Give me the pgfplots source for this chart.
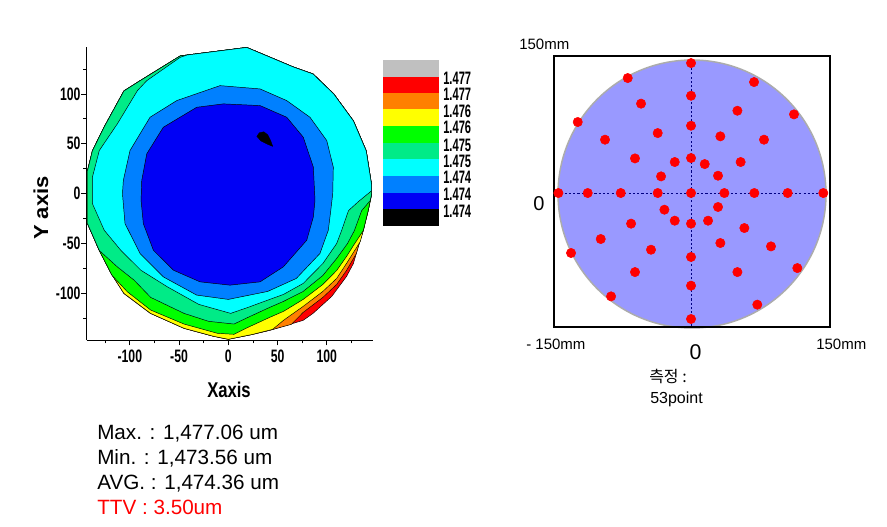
\documentclass[border=0pt]{standalone}
\usepackage{pgfplots}
\pgfplotsset{compat=1.18}
\usepackage{fontspec}
\usepackage{graphicx}
\setmainfont{Liberation Sans}
\newfontfamily\kr{Noto Sans CJK KR}
\definecolor{cGray}{RGB}{192,192,192}
\definecolor{cRed}{RGB}{255,0,0}
\definecolor{cOrange}{RGB}{255,128,0}
\definecolor{cYellow}{RGB}{255,255,0}
\definecolor{cGreen}{RGB}{0,255,0}
\definecolor{cSpring}{RGB}{0,235,135}
\definecolor{cCyan}{RGB}{0,255,255}
\definecolor{cDodger}{RGB}{0,128,255}
\definecolor{cBlue}{RGB}{0,0,245}
\definecolor{wafer}{RGB}{153,153,255}
\definecolor{navyd}{RGB}{0,0,130}
\newcommand\sq[1]{\scalebox{0.68}[1]{#1}}
\newcommand\tkfont{\fontsize{13.5}{13.5}\selectfont\bfseries}
\begin{document}
\begin{tikzpicture}
\useasboundingbox (0,0) rectangle (665.25pt,-395.25pt);
\begin{scope}[x=0.75pt,y=-0.75pt]
\draw[fill=wafer, draw=gray!65, line width=1.1pt] (692,194) circle[radius=100.5pt];
\end{scope}

% ---------------- contour map ----------------
\begin{axis}[at={(65.03pt,-255pt)}, anchor=south west, scale only axis,
  width=214.5pt, height=219.5pt,
  xmin=-143.8, xmax=146.6, ymin=-146.7, ymax=146.7,
  axis lines*=left, axis line style={line width=0.75pt},
  tick align=outside, tick style={black, line width=0.6pt},
  major tick length=4pt, minor tick length=2.5pt,
  xtick={-100,-50,0,50,100}, ytick={-100,-50,0,50,100},
  minor xtick={-125,-75,-25,25,75,125}, minor ytick={-125,-75,-25,25,75,125},
  xticklabels={\sq{-100},\sq{-50},\sq{0},\sq{50},\sq{100}},
  yticklabels={\sq{-100},\sq{-50},\sq{0},\sq{50},\sq{100}},
  ticklabel style={font=\tkfont},
  yticklabel style={inner xsep=0.5pt},
  xticklabel style={inner ysep=3pt}]
% red (full wafer)
\addplot[fill=cRed, draw=black, line width=0.35pt] coordinates {
(-42,139) (18.7,146.6) (66,127) (86,120) (107,100) (127,73) (140,43) (145.6,8) (145.6,0) (142,-17) (137,-37) (132,-53) (127,-70) (120,-83) (105,-103) (86,-120) (76,-127) (42,-137) (25,-141) (0,-146) (-15,-143) (-45,-135) (-79,-120) (-106,-100) (-119,-80) (-131,-57) (-143,-30) (-143,23) (-138,43) (-126,67) (-106,103) (-90,113) (-49,138)} -- cycle;
% orange
\addplot[fill=cOrange, draw=black, line width=0.35pt] coordinates {
(-42,139) (18.7,146.6) (66,127) (86,120) (107,100) (127,73) (140,43) (145.6,8) (145.6,0) (142,-17) (137,-37) (132,-53) (130,-60) (120,-77) (110,-91) (96,-104) (76,-119) (64,-131) (42,-137) (25,-141) (0,-146) (-15,-143) (-45,-135) (-79,-120) (-106,-100) (-119,-80) (-131,-57) (-143,-30) (-143,23) (-138,43) (-126,67) (-106,103) (-90,113) (-49,138)} -- cycle;
% yellow
\addplot[fill=cYellow, draw=black, line width=0.35pt] coordinates {
(-42,139) (18.7,146.6) (66,127) (86,120) (107,100) (127,73) (140,43) (145.6,8) (145.6,0) (142,-17) (137,-37) (134,-48) (120,-70) (110,-85) (96,-98) (76,-113) (56,-127) (45,-136) (25,-141) (0,-146) (-15,-143) (-45,-135) (-79,-120) (-106,-100) (-119,-80) (-131,-57) (-143,-30) (-143,23) (-138,43) (-126,67) (-106,103) (-90,113) (-49,138)} -- cycle;
% green
\addplot[fill=cGreen, draw=black, line width=0.35pt] coordinates {
(-42,139) (18.7,146.6) (66,127) (86,120) (107,100) (127,73) (140,43) (145.6,8) (145.6,0) (142,-17) (137,-37) (127,-52) (120,-63) (110,-77) (96,-91) (76,-106) (56,-118) (42,-124) (20,-134) (5.8,-141) (-11,-140) (-45,-130.7) (-78.8,-116.7) (-102.5,-98.4) (-118,-82) (-131,-57) (-143,-30) (-143,23) (-138,43) (-126,67) (-106,103) (-90,113) (-49,138)} -- cycle;
% spring green
\addplot[fill=cSpring, draw=black, line width=0.35pt] coordinates {
(-42,139) (18.7,146.6) (66,127) (86,120) (107,100) (127,73) (140,43) (145.6,8) (145.6,0) (144,-7) (135.4,-17) (128,-37) (121,-50) (110,-65) (96,-82) (76,-98) (56,-108) (42,-114) (20,-124) (5.8,-130.7) (-20,-128) (-45,-120) (-78.8,-104) (-95.7,-86.7) (-112.7,-73.4) (-131,-57) (-143,-30) (-143,23) (-138,43) (-126,67) (-106,103) (-90,113) (-49,138)} -- cycle;
% cyan
\addplot[fill=cCyan, draw=black, line width=0.35pt] coordinates {
(-42,139) (18.7,146.6) (66,127) (86,120) (107,100) (127,73) (140,43) (145.6,8) (145.6,3) (132,-8) (122,-17) (115,-37) (110,-50) (96,-70) (76,-90) (56,-101) (42,-106) (20,-114) (2.4,-120) (-30,-111) (-61.9,-93.4) (-88.9,-76.7) (-109.2,-56.7) (-126,-36.7) (-138,-10) (-138,16.6) (-131,43.3) (-112.7,70) (-92.3,103.3) (-82.8,113.3) (-49,136.6)} -- cycle;
% dodger blue
\addplot[fill=cDodger, draw=black, line width=0.35pt] coordinates {
(-52.4,93.3) (-8.4,108.3) (32.2,105) (59.3,93.3) (82.9,76.6) (99.9,53.3) (106.6,26.6) (106,0) (104,-17) (101.5,-36.7) (93,-60) (69,-85) (40,-98) (0,-106) (-32.1,-101.7) (-66,-83.4) (-89.6,-60) (-104.9,-30) (-107.5,0) (-106.6,13.3) (-99.8,43.3) (-79.5,76.6)} -- cycle;
% blue
\addplot[fill=cBlue, draw=black, line width=0.35pt] coordinates {
(-32.1,86.6) (-5.1,90) (32.2,88.3) (59.3,76.6) (76.1,56.6) (86.3,26.6) (88,-6.7) (86.3,-23.4) (79.6,-46.7) (55.8,-73.4) (32.2,-88.4) (1.7,-91.7) (-28.7,-88.4) (-55.8,-76.7) (-76.1,-56.7) (-86.3,-30) (-88.6,-6.7) (-87.9,13.3) (-82.8,40) (-66,66.6)} -- cycle;
% black
\addplot[fill=black, draw=black, line width=0.35pt] coordinates {
(29,57.5) (31.5,61) (36,62) (40,59) (43,53) (45,47.5) (40,49.5) (33,53)} -- cycle;
\end{axis}

% ---------------- measurement map ----------------
\begin{axis}[at={(415.5pt,-245.25pt)}, anchor=south west, scale only axis,
  width=207pt, height=203.25pt,
  xmin=-147.2, xmax=149.3, ymin=-143.9, ymax=147.2,
  xtick=\empty, ytick=\empty, axis line style={line width=2.2pt}, clip=false]
\addplot[navyd, line width=0.8pt, dash pattern=on 1.6pt off 1.6pt] coordinates {(-145,0) (145,0)};
\addplot[navyd, line width=0.8pt, dash pattern=on 1.6pt off 1.6pt] coordinates {(0,-143) (0,145)};
\addplot[only marks, mark=*, mark size=3.5pt, mark options={draw=red, fill=red}] coordinates {
(0,139.6) (0,104.5) (0,72.3) (0,37.6) (0,0) (0,-32.9) (0,-68.7) (0,-99.5) (0,-135.3)
(-142.5,0) (-111,0) (-75.5,0) (-35.8,0) (35.8,0) (68,0) (103.8,0) (142.1,0)
(-68.0,123.5) (67.7,119.2) (-53.7,96.0) (49.8,88.4) (-121.7,76.3) (110.6,84.5)
(-92.4,57.3) (-35.8,64.4) (31.5,60.9) (78.4,57.3) (-60.2,37.2) (-17.5,33.3)
(14.7,31.1) (53.3,33.3) (-32.2,17.9) (29.0,18.6) (-28.6,-17.9) (29.0,-15.0)
(-17.5,-29.7) (18.3,-29.7) (-64.4,-32.9) (57.3,-37.6) (-97.0,-49.4) (31.5,-53.7)
(-43.0,-60.9) (85.9,-57.3) (-128.9,-64.4) (114.2,-80.6) (-60.2,-84.9) (49.8,-84.9)
(-85.9,-111.0) (71.2,-119.9)};
\end{axis}

\begin{scope}[x=0.75pt,y=-0.75pt]
% colour key
\fill[cGray]   (382.7,60)    rectangle (439,76.7);
\fill[cRed]    (382.7,76.7)  rectangle (439,92.7);
\fill[cOrange] (382.7,92.7)  rectangle (439,109.3);
\fill[cYellow] (382.7,109.3) rectangle (439,126);
\fill[cGreen]  (382.7,126)   rectangle (439,143.3);
\fill[cSpring] (382.7,143.3) rectangle (439,159.3);
\fill[cCyan]   (382.7,159.3) rectangle (439,176);
\fill[cDodger] (382.7,176)   rectangle (439,192.7);
\fill[cBlue]   (382.7,192.7) rectangle (439,209.3);
\fill[black]   (382.7,209.3) rectangle (439,226);
\foreach \yy/\lab in {78.3/1.477,94.3/1.477,111/1.476,127.7/1.476,145/1.475,161/1.475,177.7/1.474,194.3/1.474,211/1.474}
  \node[anchor=west, inner sep=0pt, font=\tkfont] at (443,\yy) {\scalebox{0.62}[1]{\lab}};
% axis titles
\node[font=\fontsize{16.5}{16.5}\selectfont\bfseries, rotate=90] at (41,208) {\scalebox{1}[0.92]{Y axis}};
\node[font=\fontsize{16}{16}\selectfont\bfseries] at (229,390) {\scalebox{0.78}[1]{Xaxis}};
% statistics
\node[anchor=base west, inner sep=0pt, font=\fontsize{15.5}{15.5}\selectfont] at (97,439.3) {Max. : 1,477.06 um};
\node[anchor=base west, inner sep=0pt, font=\fontsize{15.5}{15.5}\selectfont] at (97,464.3) {Min. : 1,473.56 um};
\node[anchor=base west, inner sep=0pt, font=\fontsize{15.5}{15.5}\selectfont] at (97,489.5) {AVG. : 1,474.36 um};
\node[anchor=base west, inner sep=0pt, font=\fontsize{15.5}{15.5}\selectfont, text=red] at (97,514.8) {TTV : 3.50um};
% measurement map labels
\node[anchor=base west, inner sep=0pt, font=\fontsize{11.25}{11.25}\selectfont] at (519,49.5) {150mm};
\node[font=\fontsize{15}{15}\selectfont] at (539,203.5) {0};
\node[anchor=base west, inner sep=0pt, font=\fontsize{11.25}{11.25}\selectfont] at (526,349.5) {- 150mm};
\node[anchor=base west, inner sep=0pt, font=\fontsize{11.25}{11.25}\selectfont] at (816,349.5) {150mm};
\node[font=\fontsize{16}{16}\selectfont] at (695.5,352) {0};
\node[anchor=base west, inner sep=0pt, font=\fontsize{12}{12}\selectfont\kr] at (649,382) {측정 :};
\node[anchor=base west, inner sep=0pt, font=\fontsize{12}{12}\selectfont] at (650,403.5) {53point};
\end{scope}
\end{tikzpicture}
\end{document}
